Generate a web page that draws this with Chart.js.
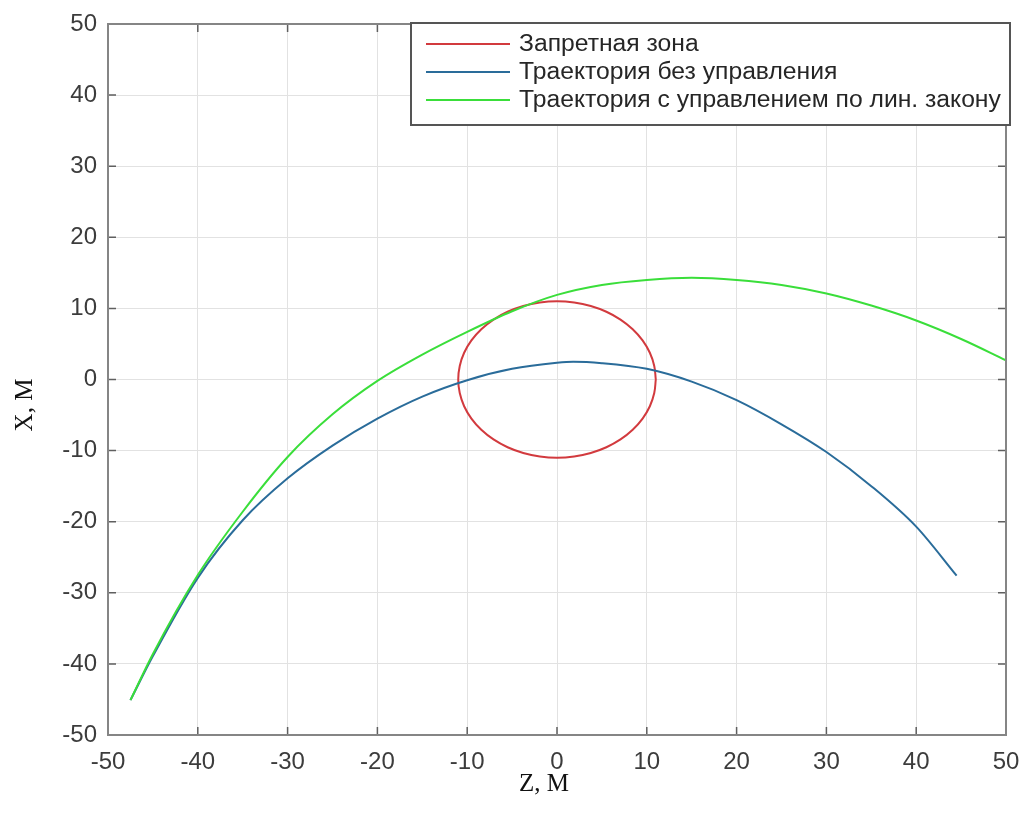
<!DOCTYPE html>
<html>
<head>
<meta charset="utf-8">
<script src="https://cdn.jsdelivr.net/npm/chart.js@4.4.0/dist/chart.umd.min.js"></script>
<style>
  html, body { margin: 0; padding: 0; background: #fff; }
</style>
</head>
<body>
<canvas id="trajChart" width="1027" height="830"></canvas>
<script>
// forbidden zone (circle of radius 11 around the origin)
const zoneZ = [11, 10.83, 10.34, 9.53, 8.43, 7.07, 5.5, 3.76, 1.91, 0, -1.91, -3.76, -5.5, -7.07, -8.43, -9.53, -10.34, -10.83,
               -11, -10.83, -10.34, -9.53, -8.43, -7.07, -5.5, -3.76, -1.91, 0, 1.91, 3.76, 5.5, 7.07, 8.43, 9.53, 10.34, 10.83, 11];
const zoneX = [0, 1.91, 3.76, 5.5, 7.07, 8.43, 9.53, 10.34, 10.83, 11, 10.83, 10.34, 9.53, 8.43, 7.07, 5.5, 3.76, 1.91,
               0, -1.91, -3.76, -5.5, -7.07, -8.43, -9.53, -10.34, -10.83, -11, -10.83, -10.34, -9.53, -8.43, -7.07, -5.5, -3.76, -1.91, 0];

// trajectory without control
const freeZ = [-47.5, -45, -40, -35, -30, -25, -20, -15, -10, -5, 0, 1.8, 5, 10, 15, 20, 25, 30, 35, 40, 44.5];
const freeX = [-45.1, -38.9, -27.9, -19.8, -13.9, -9.3, -5.5, -2.4, -0.1, 1.5, 2.35, 2.5, 2.3, 1.5, -0.3, -2.9, -6.3, -10.2, -15.0, -20.7, -27.6];

// trajectory with linear control law
const ctrlZ = [-47.5, -45, -40, -35, -30, -25, -20, -15, -10, -5, 0, 5, 10, 15, 20, 25, 30, 35, 40, 45, 50];
const ctrlX = [-45.1, -38.6, -27.5, -18.6, -10.9, -4.9, -0.2, 3.5, 6.7, 9.6, 11.9, 13.3, 14.0, 14.3, 14.0, 13.3, 12.1, 10.4, 8.3, 5.7, 2.7];

const tickValues = [-50, -40, -30, -20, -10, 0, 10, 20, 30, 40, 50];
const seriesNames = ['Запретная зона', 'Траектория без управления', 'Траектория с управлением по лин. закону'];
const seriesColors = ['#d23a3e', '#2a6c9a', '#3ade3a'];

function toPoints(xs, ys) {
  return xs.map((v, i) => ({ x: v, y: ys[i] }));
}

const tickFont = { family: 'Liberation Sans, Arial, sans-serif', size: 24 };

// box around the axes with inward ticks, MATLAB style
const framePlugin = {
  id: 'frame',
  afterDatasetsDraw(chart) {
    const { ctx, chartArea: a, scales } = chart;
    ctx.save();
    ctx.strokeStyle = '#5f5f5f';
    ctx.lineWidth = 1.5;
    ctx.beginPath();
    tickValues.forEach(v => {
      const px = scales.x.getPixelForValue(v);
      ctx.moveTo(px, a.bottom); ctx.lineTo(px, a.bottom - 8);
      ctx.moveTo(px, a.top); ctx.lineTo(px, a.top + 8);
      const py = scales.y.getPixelForValue(v);
      ctx.moveTo(a.left, py); ctx.lineTo(a.left + 8, py);
      ctx.moveTo(a.right, py); ctx.lineTo(a.right - 8, py);
    });
    ctx.stroke();
    ctx.strokeStyle = '#858585';
    ctx.lineWidth = 2;
    ctx.strokeRect(a.left, a.top, a.right - a.left, a.bottom - a.top);
    ctx.restore();
  },
  afterDraw(chart) {
    const { ctx } = chart;
    ctx.save();
    // axis titles
    ctx.fillStyle = '#111';
    ctx.font = '25px "Liberation Serif", "Times New Roman", serif';
    ctx.textAlign = 'center';
    ctx.textBaseline = 'middle';
    ctx.fillText('Z, M', 544, 784);
    ctx.translate(25, 405);
    ctx.rotate(-Math.PI / 2);
    ctx.fillText('X, M', 0, 0);
    ctx.restore();

    // legend box
    ctx.save();
    ctx.fillStyle = '#fff';
    ctx.fillRect(411, 23, 599, 102);
    ctx.strokeStyle = '#555';
    ctx.lineWidth = 2;
    ctx.strokeRect(411, 23, 599, 102);
    ctx.font = '24.7px "Liberation Sans", Arial, sans-serif';
    ctx.textBaseline = 'middle';
    ctx.textAlign = 'left';
    chart.data.datasets.forEach((ds, i) => {
      const y = 44 + i * 28;
      ctx.strokeStyle = ds.borderColor;
      ctx.lineWidth = 2;
      ctx.beginPath();
      ctx.moveTo(426, y);
      ctx.lineTo(510, y);
      ctx.stroke();
      ctx.fillStyle = '#262626';
      ctx.fillText(ds.label, 519, y);
    });
    ctx.restore();
  }
};

const ctx = document.getElementById('trajChart').getContext('2d');
new Chart(ctx, {
  type: 'scatter',
  data: {
    datasets: [
      { label: seriesNames[0], data: toPoints(zoneZ, zoneX), borderColor: seriesColors[0], order: 3, tension: 0.4 },
      { label: seriesNames[1], data: toPoints(freeZ, freeX), borderColor: seriesColors[1], order: 2, cubicInterpolationMode: 'monotone' },
      { label: seriesNames[2], data: toPoints(ctrlZ, ctrlX), borderColor: seriesColors[2], order: 1, cubicInterpolationMode: 'monotone' }
    ].map(ds => Object.assign(ds, {
      showLine: true, pointRadius: 0, borderWidth: 2, fill: false
    }))
  },
  options: {
    responsive: false,
    animation: false,
    layout: { padding: { top: 24, right: 21, left: 0, bottom: 0 } },
    plugins: {
      legend: { display: false },
      tooltip: { enabled: false }
    },
    scales: {
      x: {
        type: 'linear', min: -50, max: 50,
        afterFit: s => { s.height = 95; s.paddingLeft = 0; s.paddingRight = 0; },
        afterBuildTicks: s => { s.ticks = tickValues.map(v => ({ value: v })); },
        ticks: { font: tickFont, color: '#3c3c3c', padding: 13, maxRotation: 0 },
        grid: { color: '#e2e2e2', lineWidth: 1, drawTicks: false },
        border: { display: false }
      },
      y: {
        type: 'linear', min: -50, max: 50,
        afterFit: s => { s.width = 108; s.paddingTop = 0; s.paddingBottom = 0; },
        afterBuildTicks: s => { s.ticks = tickValues.map(v => ({ value: v })); },
        ticks: { font: tickFont, color: '#3c3c3c', padding: 11 },
        grid: { color: '#e2e2e2', lineWidth: 1, drawTicks: false },
        border: { display: false }
      }
    }
  },
  plugins: [framePlugin]
});
</script>
</body>
</html>
